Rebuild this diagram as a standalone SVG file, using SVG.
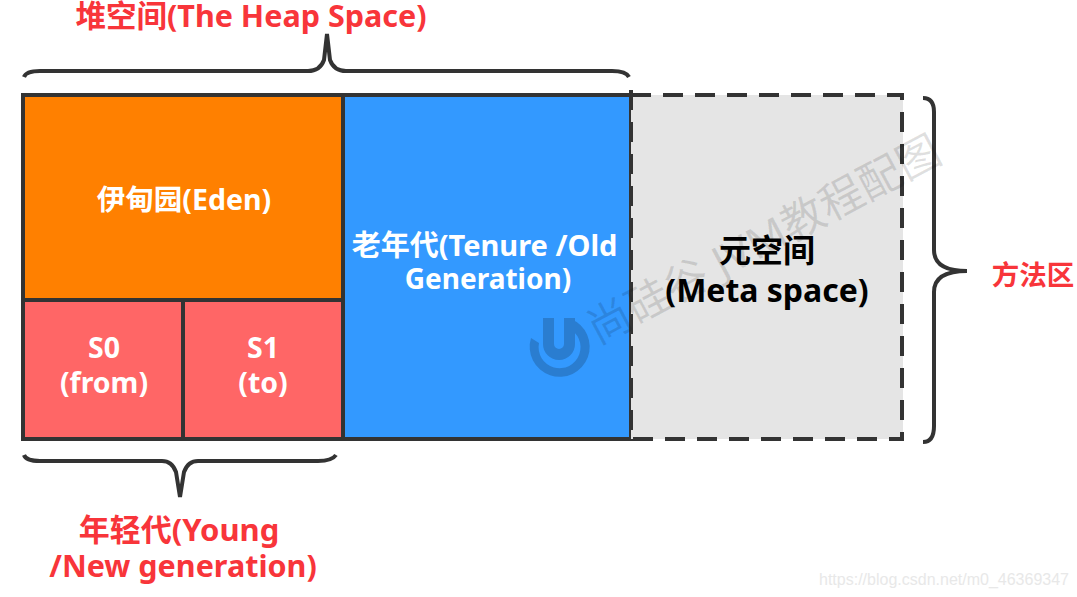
<svg xmlns="http://www.w3.org/2000/svg" width="1077" height="597" viewBox="0 0 1077 597">
<style>
text{font-family:"Noto Sans","Noto Sans CJK SC",sans-serif;font-weight:700;text-anchor:middle}
.w{fill:#fff;font-size:28.5px}
.r{fill:#f8353a;font-size:30.5px}
.k{fill:#000;font-size:32px}
.box{stroke:#333;stroke-width:4}
.brace{fill:none;stroke:#333;stroke-width:4}
.dash{fill:none;stroke:#333;stroke-width:4;stroke-dasharray:20 12}
</style>
<rect width="1077" height="597" fill="#fff"/>
<g id="eden"><rect class="box" x="23" y="95" width="320" height="205" fill="#ff8000"/><text class="w" x="184" y="210">伊甸园(Eden)</text></g>
<g id="s0"><rect class="box" x="23" y="300" width="160" height="139" fill="#ff6666"/><text class="w" x="104" y="358">S0</text><text class="w" x="104" y="393">(from)</text></g>
<g id="s1"><rect class="box" x="183" y="300" width="160" height="139" fill="#ff6666"/><text class="w" x="263" y="358">S1</text><text class="w" x="263" y="393">(to)</text></g>
<g id="old"><rect class="box" x="343" y="95" width="288" height="344" fill="#3399ff"/><text class="w" x="484.500" y="256" style="font-size:29px">老年代(Tenure /Old</text><text class="w" x="488" y="289" style="font-size:28px">Generation)</text></g>
<g id="meta"><rect x="631" y="95" width="272" height="344" fill="#e5e5e5"/><path class="dash" d="M631 95H903M902 112V441M633 439H904M631 90V439"/><path d="M902 93V100" fill="none" stroke="#333" stroke-width="4"/><text class="k" x="767" y="262">元空间</text><text class="k" x="767" y="302">(Meta space)</text></g>
<g id="connectors">
<path class="brace" d="M24 77Q26 71 40 71H308Q320 71 324 60L327 34L330 60Q334 71 346 71H612Q626 71 629 77"/>
<path class="brace" d="M24 455Q26 461 40 461H162Q172 461 176 472L180 497L184 472Q188 461 198 461H318Q332 461 336 455"/>
<path class="brace" d="M923 98Q934 98 934 112V250Q934 271 967 271Q934 271 934 292V426Q934 442 923 442"/>
</g>
<g id="labels">
<text class="r" x="251" y="27">堆空间(The Heap Space)</text>
<text class="r" x="179" y="541" style="font-size:31px">年轻代(Young</text>
<text class="r" x="183" y="577">/New generation)</text>
<text class="r" x="1033" y="285" style="font-size:27.500px">方法区</text>
</g>
<g id="watermark">
<path d="M531 338A30 30 0 1 0 571 319L568 328A21 21 0 1 1 539 343Z" fill="#2a7dd0"/>
<path d="M548.500 318V344A10.500 10.500 0 0 0 569.500 344V318" fill="none" stroke="#2a7dd0" stroke-width="11"/>
<text transform="translate(771 253) rotate(-28)" style="font-size:43.500px;font-weight:400;fill:#000;fill-opacity:.12">尚硅谷 JVM教程配图</text>
<text x="944" y="585" style="font-size:16px;font-weight:400;fill:#e8e8e8;font-family:'Liberation Sans',sans-serif">https://blog.csdn.net/m0_46369347</text>
</g>
</svg>
